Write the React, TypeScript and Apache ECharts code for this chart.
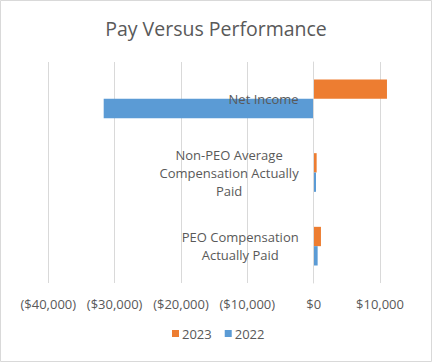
import React, { useEffect, useRef } from "react";
import * as echarts from "echarts";

const title = "Pay Versus Performance";
const categories = [
  "PEO Compensation Actually Paid",
  "Non-PEO Average Compensation Actually Paid",
  "Net Income",
];
const seriesNames = ["2023", "2022"];
const values2023 = [1100, 450, 11050];
const values2022 = [600, 350, -31650];
const axisMin = -40000;
const axisMax = 10000;
const axisStep = 10000;

const FONT = "'Open Sans', 'Noto Sans', sans-serif";
const TEXT = "#595959";
const GRID_LEFT = 48.3;
const GRID_RIGHT = 52;
const WIDTH = 432;

function wrap(s: string, max: number): string[] {
  const words = s.split(" ");
  const lines: string[] = [];
  let cur = "";
  for (const w of words) {
    const next = cur ? cur + " " + w : w;
    if (next.length > max && cur) {
      lines.push(cur);
      cur = w;
    } else cur = next;
  }
  if (cur) lines.push(cur);
  return lines;
}

function money(v: number): string {
  const s = "$" + Math.abs(v).toLocaleString("en-US");
  return v < 0 ? "(" + s + ")" : s;
}

export default function App() {
  const ref = useRef<HTMLDivElement>(null);
  useEffect(() => {
    if (!ref.current) return;
    const chart = echarts.init(ref.current, null, { renderer: "svg" });
    // distance in px from grid left edge to the zero value
    const plotW = WIDTH - GRID_LEFT - GRID_RIGHT;
    const zeroOffset = ((0 - axisMin) / (axisMax - axisMin)) * plotW;
    chart.setOption({
      animation: false,
      backgroundColor: "#ffffff",
      textStyle: { fontFamily: FONT },
      graphic: [
        {
          type: "rect",
          shape: { x: 0.5, y: 0.5, width: 431, height: 361 },
          style: { fill: "none", stroke: "#d9d9d9", lineWidth: 1 },
          silent: true,
        },
      ],
      title: {
        text: title,
        left: "center",
        top: 13,
        textStyle: { fontFamily: FONT, fontSize: 19.5, fontWeight: "normal", color: TEXT },
      },
      legend: {
        data: seriesNames,
        left: 172,
        top: 327,
        padding: 0,
        icon: "rect",
        itemWidth: 7,
        itemHeight: 7,
        itemGap: 13,
        textStyle: { fontFamily: FONT, fontSize: 13, color: TEXT, padding: [0, 0, 0, -2] },
      },
      grid: {
        left: GRID_LEFT,
        right: GRID_RIGHT,
        top: 62,
        bottom: 79,
        containLabel: false,
        outerBoundsMode: "none",
      },
      xAxis: {
        type: "value",
        min: axisMin,
        max: axisMax,
        interval: axisStep,
        axisLine: { show: false },
        axisTick: { show: false },
        splitLine: { show: true, lineStyle: { color: "#d9d9d9", width: 1 } },
        axisLabel: {
          formatter: (v: number) => money(v),
          fontFamily: FONT,
          fontSize: 13,
          color: TEXT,
          margin: 14,
          hideOverlap: false,
        },
      },
      yAxis: {
        type: "category",
        data: categories,
        z: 10,
        offset: -zeroOffset,
        axisLine: { show: true, onZero: false, lineStyle: { color: "#d9d9d9" } },
        axisTick: { show: false },
        axisLabel: {
          margin: 15,
          align: "right",
          formatter: (v: string) =>
            wrap(v, 21)
              .map((l) => "{c|" + l + "}")
              .join("\n"),
          rich: {
            c: { align: "center", fontFamily: FONT, fontSize: 13, lineHeight: 18, color: TEXT },
          },
        },
      },
      series: [
        {
          name: seriesNames[0],
          type: "bar",
          data: values2023,
          barGap: "0%",
          barCategoryGap: "47.5%",
          clip: false,
          itemStyle: { color: "#ED7D31" },
        },
        {
          name: seriesNames[1],
          type: "bar",
          data: values2022,
          barGap: "0%",
          barCategoryGap: "47.5%",
          clip: false,
          itemStyle: { color: "#5B9BD5" },
        },
      ],
    });
    return () => chart.dispose();
  }, []);
  return (
    <div
      ref={ref}
      style={{ position: "fixed", left: 0, top: 0, width: 432, height: 362 }}
    />
  );
}
